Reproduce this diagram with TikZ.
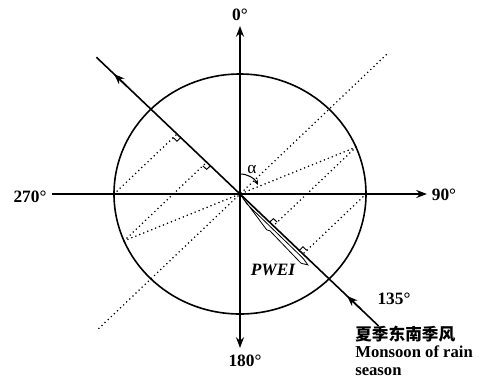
\documentclass[tikz,border=0pt]{standalone}
\usepackage{fontspec}
\setmainfont{Liberation Serif}
\newfontfamily\cjk{Noto Sans CJK SC}
\usetikzlibrary{arrows.meta}
\begin{document}
\begin{tikzpicture}[x=0.75pt,y=-0.75pt,
  axis/.style={line width=1.2pt},
  dots/.style={line width=1.3pt, dash pattern=on 0pt off 3.2pt, line cap=round},
  tip/.style={-{Stealth[length=8pt,width=6pt]}},
  lbl/.style={inner sep=0pt, font=\fontsize{13}{13}\selectfont\bfseries},
  note/.style={inner sep=0pt, font=\fontsize{12.5}{12.5}\selectfont\bfseries},
  ra/.style={line width=0.7pt}]
\useasboundingbox (0,0) rectangle (489,380);
\begin{scope}[shift={(240,194)}, xscale=126, yscale=-120]
  \coordinate (O) at (0,0);
  \coordinate (N) at (0,1.4);
  \coordinate (S) at (0,-1.283);
  \coordinate (W) at (-1.492,0);
  \coordinate (E) at (1.484,0);
  \coordinate (W1) at (-1,0);
  \coordinate (E1) at (1,0);
  \coordinate (A) at (0.921,0.391);
  \coordinate (B) at (-0.921,-0.391);
  \coordinate (FA) at (0.265,-0.265);
  \coordinate (FB) at (-0.265,0.265);
  \coordinate (FE) at (0.5,-0.5);
  \coordinate (FW) at (-0.5,0.5);
  \coordinate (D1) at (-1.14,1.14);
  \coordinate (D2) at (1.10,-1.10);
  \coordinate (L1) at (-1.12,-1.12);
  \coordinate (L2) at (1.17,1.17);
  \coordinate (T1a) at (-0.9,0.9);
  \coordinate (T1b) at (-1.0,1.0);
  \coordinate (T2a) at (0.96,-0.96);
  \coordinate (T2b) at (0.85,-0.85);
  % circle
  \draw[axis] (O) ellipse [x radius=1, y radius=1];
  % dotted lines
  \draw[dots] (L1) -- (L2);
  \draw[dots] (W1) -- (FW);
  \draw[dots] (B) -- (FB);
  \draw[dots] (B) -- (O);
  \draw[dots] (A) -- (O);
  \draw[dots] (A) -- (FA);
  \draw[dots] (E1) -- (FE);
  % right angle marks
  \draw[ra] (-0.53,0.47) -- (-0.50,0.44) -- (-0.47,0.47);
  \draw[ra] (-0.295,0.235) -- (-0.265,0.205) -- (-0.235,0.235);
  \draw[ra] (0.53,-0.47) -- (0.50,-0.44) -- (0.47,-0.47);
  \draw[ra] (0.295,-0.235) -- (0.265,-0.205) -- (0.235,-0.235);
  % axes
  \draw[axis, {Stealth[length=8pt,width=6pt]}-{Stealth[length=8pt,width=6pt]}] (S) -- (N);
  \draw[axis, tip] (W) -- (E);
  % diagonal wind line
  \draw[axis] (D1) -- (D2);
  \draw[axis, tip] (T1a) -- (T1b);
  \draw[axis, tip] (T2a) -- (T2b);
  % alpha arc
  \draw[line width=0.8pt, -{Stealth[length=4pt,width=3.5pt]}] (0,0.167) arc[start angle=90, end angle=27, x radius=0.16, y radius=0.167];
\end{scope}
% PWEI strip
\draw[line width=0.6pt] (240,194) -- (246.96,204.09) -- (303.09,258.27) -- (307.84,264.88) -- (301.09,263.27) -- (269.89,230.77) -- (266.68,229.79) -- cycle;
% labels
\node[lbl] (l0) at (240,15) {0°};
\node[lbl] (l90) at (444,195) {90°};
\node[lbl] (l270) at (30,197) {270°};
\node[lbl] (l180) at (245,361) {180°};
\node[lbl] (l135) at (394,299) {135°};
\node[inner sep=0pt, font=\fontsize{13}{13}\selectfont\bfseries\itshape] (pw) at (273,270) {PWEI};
\node[inner sep=0pt, font=\fontsize{13}{13}\selectfont] (al) at (252,169) {α};
\node[note, anchor=base west] (c1) at (355,340) {\cjk 夏季东南季风};
\node[note, anchor=base west] (c2) at (355,357) {Monsoon of rain};
\node[note, anchor=base west] (c3) at (355,375) {season};
\end{tikzpicture}
\end{document}
